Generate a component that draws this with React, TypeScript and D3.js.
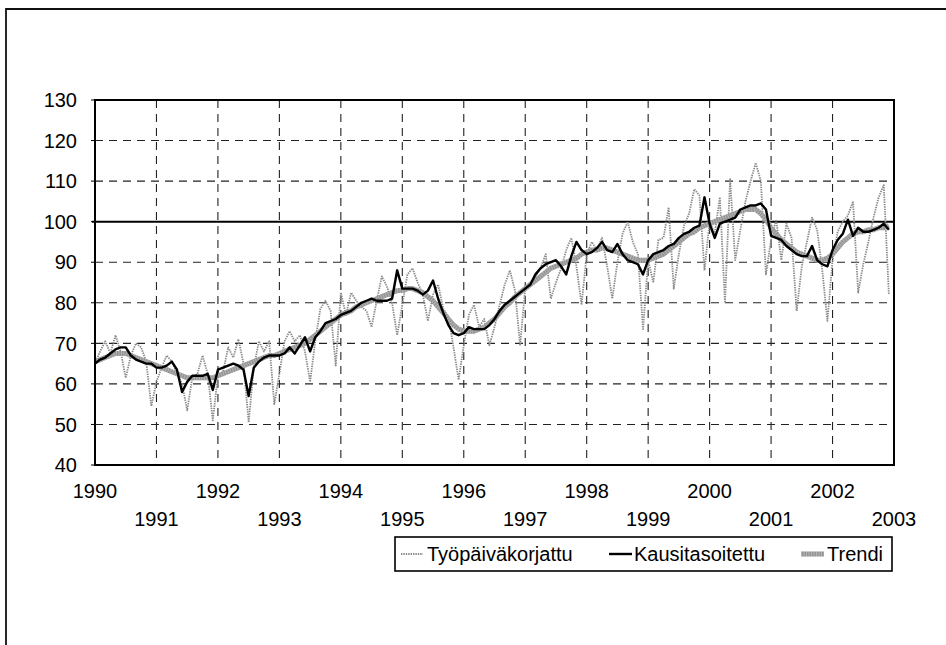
import React from "react";
import * as d3 from "d3";

const yearLabels = [1990, 1991, 1992, 1993, 1994, 1995, 1996, 1997, 1998, 1999, 2000, 2001, 2002, 2003];
const yTicks = [40, 50, 60, 70, 80, 90, 100, 110, 120, 130];
const seriesNames = ["Työpäiväkorjattu", "Kausitasoitettu", "Trendi"];

// monthly values Jan 1990 .. Dec 2002
const tyopaiva = [
  65, 68, 70.5, 67.5, 72, 68, 61.5, 67, 70, 69, 65.5, 54.5,
  60.5, 64, 67, 65.5, 62.5, 60, 53.5, 61.5, 62.5, 67, 62.5, 51,
  62, 63, 69, 66.5, 71, 65, 50.5, 64, 70.5, 68, 70.5, 55,
  62.5, 70.5, 73, 70.5, 72, 68, 60.5, 70.5, 78.5, 80.5, 78, 64.5,
  82.5, 77, 82.5, 80.5, 79, 78, 74, 80.5, 86.5, 84, 80, 72,
  79.5, 87, 88.5, 85, 82, 75.5, 82, 84.5, 78.5, 76.5, 69, 61,
  69.5, 77, 79.5, 74, 76, 69.5, 74, 79.5, 84.5, 88, 83, 69.5,
  83.5, 85, 86.5, 88.5, 92, 81, 85, 88.5, 93, 96, 89, 79.5,
  92, 95, 93, 96, 89, 81, 90, 97, 100, 95, 92, 73.5,
  90.5, 85, 95.5, 96, 103.5, 83.5, 92, 99, 102, 108, 106.5, 88,
  100, 97, 106, 80, 110.5, 90.5, 98, 105, 110, 114.5, 110, 87,
  95.5, 100.5, 90.5, 99.5, 96, 78, 89, 95, 101, 98, 88, 75.5,
  90.5, 97.5, 100, 101.5, 105, 82.5, 89.5, 95, 101, 106, 109, 82,
];

const kausi = [
  65, 66, 66.5, 67.5, 68.5, 69, 69, 67, 66, 65.5, 65, 65,
  64, 64, 64.5, 65.5, 63.5, 58, 60.5, 62, 62, 62, 62.5, 58.5,
  63.5, 64, 64.5, 65, 64.5, 63.5, 57, 64, 65.5, 66.5, 67, 67,
  67, 67.5, 69, 67.5, 69.5, 71.5, 68, 71.5, 73, 75, 75.5, 76,
  77, 77.5, 78, 79, 80, 80.5, 81, 80.5, 80.5, 80.5, 81, 88,
  83.5, 83.5, 83.5, 83, 82, 83, 85.5, 81, 77.5, 74.5, 72.5, 72,
  72.5, 74, 73.5, 73.5, 73.5, 74.5, 76, 78, 79.5, 80.5, 81.5, 82.5,
  83.5, 84.5, 87, 88.5, 89.5, 90, 90.5, 89, 87, 91.5, 95, 93,
  92, 92.5, 93.5, 95, 93, 92.5, 94.5, 92, 90.5, 90, 89.5, 87,
  90.5, 92, 92.5, 93, 94, 94.5, 96, 97, 97.5, 98.5, 99, 106,
  99.5, 96, 99.5, 100, 100.5, 101, 103, 103.5, 104, 104, 104.5, 103,
  96.5, 96, 95.5, 94, 93, 92, 91.5, 91.5, 94, 90.5, 89.5, 89,
  93, 95.5, 97, 100.5, 96.5, 98.5, 97.5, 97.5, 98, 98.5, 99.5, 98,
];

const trendi = [
  65.5, 66, 66.5, 67, 67.5, 67.5, 67.5, 67, 66.5, 66, 65.5, 65,
  64.5, 64, 63.5, 63, 62.5, 62, 61.5, 61.5, 61.5, 61.5, 61.5, 61.5,
  62, 62.5, 63, 63.5, 64, 64.5, 65, 65.5, 66, 66.5, 67, 67,
  67.5, 68, 68.5, 69, 69.5, 70, 71, 72, 73, 74, 75, 76,
  77, 77.5, 78, 79, 79.5, 80, 80.5, 81, 81.5, 82, 82.5, 83,
  83, 83.5, 83.5, 83, 82.5, 81.5, 80.5, 79, 77.5, 76, 74.5, 73.5,
  73, 73, 73, 73.5, 74, 75, 76, 77.5, 79, 80, 81.5, 82.5,
  83.5, 84.5, 85.5, 86.5, 87.5, 88.5, 89, 89.5, 90, 90.5, 91, 92,
  92.5, 93, 93, 93.5, 93.5, 93, 92.5, 92, 91.5, 91, 90.5, 90.5,
  90.5, 91, 91.5, 92, 93, 94, 95, 96, 97, 97.5, 98.5, 99,
  99.5, 100, 100.5, 101, 101.5, 102, 102.5, 103, 103, 103, 102, 100.5,
  98.5, 97, 95.5, 94.5, 93.5, 92.5, 92, 91.5, 91, 90.5, 90.5, 91,
  92, 93.5, 95, 96, 97, 97.5, 97.5, 98, 98, 98.5, 98.5, 99,
];

const FONT = "'Liberation Sans', Arial, sans-serif";

export default function App() {
  const L = 95, R = 894, T = 100, B = 465;
  const nMonths = (yearLabels.length - 1) * 12;
  const x = d3.scaleLinear().domain([0, nMonths]).range([L, R]);
  const y = d3.scaleLinear().domain([40, 130]).range([B, T]);
  const line = d3
    .line<number>()
    .x((_, i) => x(i))
    .y((d) => y(d));

  const gridYears = yearLabels.slice(1, -1);

  return (
    <svg
      width={946}
      height={645}
      style={{ position: "absolute", left: 0, top: 0, background: "#fff" }}
      fontFamily={FONT}
    >
      <rect x={0} y={0} width={946} height={645} fill="#fff" />
      {/* outer frame */}
      <path d="M6,645 L6,9 L946,9" fill="none" stroke="#111" strokeWidth={1.8} />

      {/* horizontal gridlines */}
      {yTicks
        .filter((t) => t !== 40 && t !== 130 && t !== 100)
        .map((t) => (
          <line
            key={"h" + t}
            x1={L}
            x2={R}
            y1={y(t)}
            y2={y(t)}
            stroke="#222"
            strokeWidth={1.1}
            strokeDasharray="8,6"
          />
        ))}
      {/* vertical gridlines */}
      {gridYears.map((yr, k) => (
        <line
          key={"v" + yr}
          x1={x((k + 1) * 12)}
          x2={x((k + 1) * 12)}
          y1={T}
          y2={B}
          stroke="#222"
          strokeWidth={1.1}
          strokeDasharray="8,6"
        />
      ))}
      {/* 100 reference line */}
      <line x1={L - 3} x2={R} y1={y(100)} y2={y(100)} stroke="#000" strokeWidth={2} />

      {/* y ticks */}
      {yTicks.map((t) => (
        <line key={"yt" + t} x1={L - 4} x2={L} y1={y(t)} y2={y(t)} stroke="#000" strokeWidth={1} />
      ))}

      {/* series */}
      <path
        d={line(tyopaiva) || ""}
        fill="none"
        stroke="#8a8a8a"
        strokeWidth={1.8}
        strokeDasharray="1.4,1"
        strokeLinejoin="round"
      />
      <path
        d={line(trendi) || ""}
        fill="none"
        stroke="#949494"
        strokeWidth={5}
        strokeLinejoin="round"
      />
      <path
        d={line(trendi) || ""}
        fill="none"
        stroke="#d0d0d0"
        strokeWidth={5}
        strokeDasharray="1,1.5"
        opacity={0.55}
        strokeLinejoin="round"
      />
      <path
        d={line(kausi) || ""}
        fill="none"
        stroke="#000"
        strokeWidth={2.4}
        strokeLinejoin="round"
      />

      {/* plot border */}
      <rect x={L} y={T} width={R - L} height={B - T} fill="none" stroke="#000" strokeWidth={2} />

      {/* y labels */}
      {yTicks.map((t) => (
        <text
          key={"yl" + t}
          x={77}
          y={y(t)}
          dy="0.36em"
          textAnchor="end"
          fontSize={20}
          fill="#000"
        >
          {t}
        </text>
      ))}

      {/* x labels */}
      {yearLabels.map((yr, k) => (
        <text
          key={"xl" + yr}
          x={x(k * 12)}
          y={k % 2 === 0 ? 498 : 526}
          textAnchor="middle"
          fontSize={20}
          fill="#000"
        >
          {yr}
        </text>
      ))}

      {/* legend */}
      <g>
        <rect x={395} y={537} width={497} height={34} fill="#fff" stroke="#000" strokeWidth={1.6} />
        <line x1={401} x2={423} y1={554} y2={554} stroke="#8a8a8a" strokeWidth={1.8} strokeDasharray="1.4,1" />
        <text x={427} y={561} fontSize={20} fill="#000">{seriesNames[0]}</text>
        <line x1={609} x2={632} y1={554} y2={554} stroke="#000" strokeWidth={2.4} />
        <text x={634} y={561} fontSize={20} fill="#000">{seriesNames[1]}</text>
        <line x1={801} x2={824} y1={554} y2={554} stroke="#949494" strokeWidth={5} />
        <line x1={801} x2={824} y1={554} y2={554} stroke="#d0d0d0" strokeWidth={5} strokeDasharray="1,1.5" opacity={0.55} />
        <text x={827} y={561} fontSize={20} fill="#000">{seriesNames[2]}</text>
      </g>
    </svg>
  );
}
